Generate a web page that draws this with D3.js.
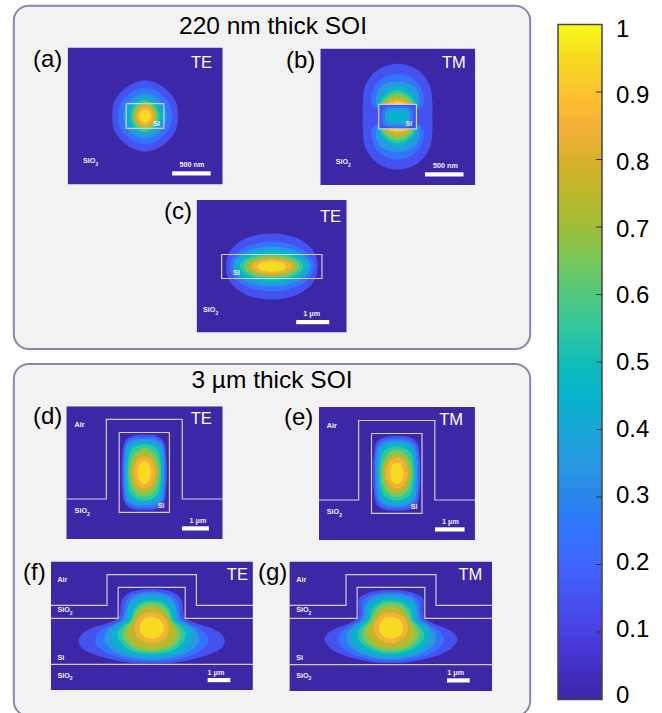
<!DOCTYPE html>
<html>
<head>
<meta charset="utf-8">
<script src="https://cdn.jsdelivr.net/npm/d3@7"></script>
<style>
  html, body { margin: 0; background: #fff; }
  svg { display: block; }
  text { font-family: "Liberation Sans", Arial, sans-serif; }
</style>
</head>
<body>
<div id="chart"></div>
<script>
// colour bar: value -> colour
const barValues = [0, 0.05, 0.1, 0.15, 0.2, 0.25, 0.3, 0.35, 0.4, 0.45, 0.5, 0.55, 0.6, 0.65, 0.7, 0.75, 0.8, 0.85, 0.9, 0.95, 1];
const barColors = ["#3c27a6", "#4230c8", "#4a3fe0", "#4552f0", "#4065ff", "#3274fc", "#2a84ec", "#2898e0", "#18a8d8", "#08b4cc", "#10bcb8", "#30c8a0", "#50c880", "#78c85c", "#a0bd38", "#bcb82c", "#d8b028", "#f5b038", "#fcc42d", "#f8da22", "#f9fb15"];
const barTicks = [0, 0.1, 0.2, 0.3, 0.4, 0.5, 0.6, 0.7, 0.8, 0.9, 1];

// contour levels, every row below belongs to one level
const levels = [0.1, 0.2, 0.3, 0.4, 0.5, 0.6, 0.7, 0.8, 0.9];

// polar sampling of the contours, degrees (0 = right, 90 = up)
const quarterAngles = [0, 22.5, 45, 67.5, 90];
const lobeAngles = [-90, -15, 0, 22.5, 45, 67.5, 90];
const ribAngles = [90, 70, 55, 42, 25, 15, 5, 0, -5, -10, -15, -20, -30, -45, -70, -90];

// contour radius in um, one row per level
const radiiA = [
  [0.425, 0.44, 0.44, 0.45, 0.464],
  [0.35, 0.355, 0.35, 0.36, 0.37],
  [0.286, 0.28, 0.28, 0.285, 0.293],
  [0.228, 0.228, 0.225, 0.23, 0.24],
  [0.19, 0.19, 0.195, 0.2, 0.208],
  [0.163, 0.163, 0.169, 0.176, 0.182],
  [0.137, 0.139, 0.143, 0.15, 0.156],
  [0.11, 0.112, 0.114, 0.12, 0.124],
  [0.075, 0.077, 0.078, 0.08, 0.082]
];
// (b) has three parts: the outer ring, the two lobes and the dip inside the Si
const radiiBOuter = [[0.451, 0.489, 0.586, 0.662, 0.689]];
const radiiBLobe = [
  [0.052, 0.26, 0.334, 0.358, 0.384, 0.393, 0.395],
  [0.039, 0.247, 0.28, 0.3, 0.319, 0.306, 0.295],
  [0.026, 0.208, 0.241, 0.241, 0.234, 0.234, 0.239],
  [0.026, 0.13, 0.221, 0.208, 0.189, 0.186, 0.187],
  [0.026, 0.104, 0.202, 0.176, 0.156, 0.147, 0.143],
  [0.026, 0.078, 0.182, 0.143, 0.117, 0.108, 0.1],
  [0.013, 0.052, 0.15, 0.098, 0.072, 0.061, 0.056],
  [0.013, 0.039, 0.124, 0.059, 0.039, 0.033, 0.03]
];
const radiiBCore = [
  [0.202, 0.218, 0.189, 0.155, 0.143],
  [0.163, 0.176, 0.156, 0.121, 0.111],
  [0.124, 0.13, 0.104, 0.083, 0.078]
];
// (c), (d), (e) are elongated, their radii are read in a stretched frame
const radiiC = [
  [0.63, 0.667, 0.773, 0.924, 1.0],
  [0.582, 0.6, 0.652, 0.718, 0.752],
  [0.536, 0.545, 0.567, 0.594, 0.606],
  [0.491, 0.494, 0.5, 0.503, 0.506],
  [0.436, 0.43, 0.418, 0.406, 0.403],
  [0.382, 0.376, 0.361, 0.348, 0.342],
  [0.333, 0.324, 0.303, 0.288, 0.282],
  [0.276, 0.267, 0.248, 0.233, 0.227],
  [0.197, 0.191, 0.179, 0.167, 0.164]
];
const radiiD = [
  [0.839, 0.895, 1.007, 0.914, 0.858],
  [0.783, 0.839, 0.951, 0.858, 0.791],
  [0.746, 0.794, 0.895, 0.802, 0.746],
  [0.69, 0.724, 0.802, 0.727, 0.69],
  [0.634, 0.656, 0.709, 0.656, 0.634],
  [0.578, 0.578, 0.582, 0.563, 0.552],
  [0.504, 0.492, 0.485, 0.47, 0.463],
  [0.41, 0.399, 0.384, 0.369, 0.362],
  [0.25, 0.25, 0.254, 0.257, 0.261]
];
const radiiE = [
  [0.794, 0.845, 0.946, 0.845, 0.791],
  [0.744, 0.794, 0.879, 0.794, 0.74],
  [0.693, 0.733, 0.811, 0.737, 0.696],
  [0.642, 0.669, 0.727, 0.666, 0.635],
  [0.592, 0.605, 0.642, 0.588, 0.571],
  [0.524, 0.521, 0.521, 0.507, 0.497],
  [0.456, 0.443, 0.433, 0.419, 0.412],
  [0.372, 0.362, 0.348, 0.335, 0.328],
  [0.237, 0.233, 0.23, 0.226, 0.223]
];
const radiiF = [
  [1.70, 1.76, 1.84, 1.78, 1.54, 1.55, 2.03, 2.59, 3.07, 3.27, 3.24, 3.04, 2.57, 2.07, 1.67, 1.57],
  [1.59, 1.63, 1.69, 1.59, 1.38, 1.39, 1.72, 2.05, 2.33, 2.51, 2.57, 2.50, 2.26, 1.91, 1.56, 1.50],
  [1.51, 1.56, 1.54, 1.42, 1.29, 1.29, 1.61, 1.81, 2.00, 2.10, 2.15, 2.14, 2.00, 1.75, 1.47, 1.42],
  [1.37, 1.38, 1.35, 1.38, 1.16, 1.19, 1.39, 1.54, 1.69, 1.78, 1.79, 1.79, 1.73, 1.59, 1.35, 1.31],
  [1.19, 1.20, 1.17, 1.10, 1.00, 1.03, 1.25, 1.35, 1.47, 1.53, 1.54, 1.54, 1.47, 1.37, 1.20, 1.16],
  [1.10, 1.10, 1.06, 1.00, 0.92, 0.97, 1.09, 1.17, 1.25, 1.29, 1.32, 1.34, 1.31, 1.23, 1.09, 1.06],
  [0.92, 0.92, 0.88, 0.85, 0.84, 0.88, 0.98, 1.03, 1.07, 1.10, 1.12, 1.13, 1.12, 1.07, 0.97, 0.94],
  [0.68, 0.69, 0.70, 0.72, 0.73, 0.75, 0.75, 0.76, 0.76, 0.76, 0.76, 0.76, 0.75, 0.73, 0.70, 0.69],
  [0.48, 0.49, 0.50, 0.51, 0.51, 0.53, 0.53, 0.53, 0.53, 0.53, 0.53, 0.53, 0.53, 0.51, 0.50, 0.50]
];
const radiiG = [
  [1.66, 1.73, 1.84, 1.91, 1.57, 1.56, 1.91, 2.35, 2.79, 2.98, 2.91, 2.79, 2.42, 1.98, 1.64, 1.56],
  [1.56, 1.61, 1.70, 1.69, 1.41, 1.41, 1.69, 1.94, 2.20, 2.36, 2.39, 2.35, 2.16, 1.84, 1.54, 1.48],
  [1.47, 1.53, 1.57, 1.51, 1.32, 1.32, 1.57, 1.72, 1.91, 1.98, 2.03, 2.03, 1.91, 1.69, 1.44, 1.39],
  [1.35, 1.38, 1.39, 1.42, 1.17, 1.20, 1.39, 1.51, 1.64, 1.73, 1.76, 1.76, 1.69, 1.54, 1.34, 1.29],
  [1.20, 1.22, 1.19, 1.15, 1.03, 1.06, 1.23, 1.32, 1.42, 1.48, 1.51, 1.51, 1.44, 1.32, 1.17, 1.15],
  [1.10, 1.10, 1.07, 1.01, 0.94, 0.98, 1.09, 1.16, 1.23, 1.28, 1.31, 1.32, 1.28, 1.19, 1.07, 1.04],
  [0.91, 0.91, 0.88, 0.85, 0.84, 0.88, 0.97, 1.01, 1.04, 1.07, 1.09, 1.10, 1.09, 1.04, 0.95, 0.92],
  [0.68, 0.69, 0.70, 0.72, 0.73, 0.75, 0.75, 0.75, 0.75, 0.75, 0.75, 0.75, 0.73, 0.72, 0.70, 0.69],
  [0.48, 0.48, 0.50, 0.51, 0.53, 0.53, 0.53, 0.53, 0.53, 0.53, 0.53, 0.53, 0.53, 0.51, 0.50, 0.50]
];

const width = 662;
const height = 713;
const bgBlue = "#3c27a6";
const lineColor = "#cfcbe8";

const color = d3.scaleLinear().domain(barValues).range(barColors);

const svg = d3.select("#chart").append("svg").attr("width", width).attr("height", height);

// grey group boxes
const boxes = [
  { y: 5.7, h: 343.3, title: "220 nm thick SOI", titleX: 273, titleY: 33.5 },
  { y: 364, h: 352, title: "3 µm thick SOI", titleX: 272, titleY: 387.7 }
];
boxes.forEach((b) => {
  svg.append("rect")
    .attr("x", 13.8).attr("y", b.y)
    .attr("width", 516.4).attr("height", b.h)
    .attr("rx", 15)
    .attr("fill", "#f2f2f2")
    .attr("stroke", "#8a86ab")
    .attr("stroke-width", 2);
  svg.append("text")
    .attr("x", b.titleX).attr("y", b.titleY)
    .attr("text-anchor", "middle")
    .style("font-size", "24.5px")
    .text(b.title);
});

// turn one row of radii into a closed ring of [x, y] in um
const ring = (angles, radii) => {
  let pts = angles.map((a, i) => [a, radii[i]]).sort((p, q) => p[0] - q[0]);
  if (pts[0][0] === 0) {
    // only a quarter was read, mirror it below the axis
    pts = pts.slice(1).reverse().map((p) => [-p[0], p[1]]).concat(pts);
  }
  const left = pts.slice(1, -1).reverse().map((p) => [180 - p[0], p[1]]);
  return pts.concat(left).map((p) => {
    const t = (p[0] * Math.PI) / 180;
    return [p[1] * Math.cos(t), p[1] * Math.sin(t)];
  });
};

const panels = [
  {
    id: "a", frame: [67.7, 47.5, 222.7, 184.5], center: [145, 116], pxPerUm: 77,
    label: [33, 67], mode: "TE", modePos: [191, 67.7],
    fields: [{ angles: quarterAngles, rows: radiiA, from: 0 }],
    si: [[-0.245, -0.161], [0.245, -0.161], [0.245, 0.161], [-0.245, 0.161], [-0.245, -0.161]],
    lines: [],
    bar: 0.5, barText: "500 nm", barPos: [172.2, 171.3], barTextPos: [192, 166.7],
    notes: [["SiO", 83, 163, true], ["Si", 153, 125.5]]
  },
  {
    id: "b", frame: [320.3, 48.5, 475.3, 185], center: [397.6, 116.7], pxPerUm: 77,
    label: [286, 68], mode: "TM", modePos: [442, 67.7],
    fields: [
      { angles: quarterAngles, rows: radiiBOuter, from: 0 },
      { angles: lobeAngles, rows: radiiBLobe, from: 1, origin: -0.159, sign: 1 },
      { angles: lobeAngles, rows: radiiBLobe, from: 1, origin: 0.159, sign: -1 },
      { fillRect: [0.245, 0.159], level: 0.1 },
      { angles: quarterAngles, rows: radiiBCore, from: 1 }
    ],
    si: [[-0.245, -0.159], [0.245, -0.159], [0.245, 0.159], [-0.245, 0.159], [-0.245, -0.159]],
    lines: [],
    bar: 0.5, barText: "500 nm", barPos: [425, 172.3], barTextPos: [445.4, 167.7],
    notes: [["SiO", 335.7, 164, true], ["Si", 405.5, 126.3]]
  },
  {
    id: "c", frame: [196.6, 200, 346.7, 332.5], center: [271.8, 266.5], pxPerUm: 33,
    label: [164, 218.5], mode: "TE", modePos: [320, 221.7],
    fields: [{ angles: quarterAngles, rows: radiiC, from: 0, stretch: [2.2, 1] }],
    si: [[-1.52, -0.364], [1.52, -0.364], [1.52, 0.364], [-1.52, 0.364], [-1.52, -0.364]],
    lines: [],
    bar: 1, barText: "1 μm", barPos: [296.2, 320], barTextPos: [311.7, 316],
    notes: [["SiO", 203, 312.3, true], ["Si", 233, 275.3]]
  },
  {
    id: "d", frame: [66.3, 406.3, 222.7, 539], center: [144.3, 472.4], pxPerUm: 26.8,
    label: [33, 424], mode: "TE", modePos: [190.7, 424],
    fields: [{ angles: quarterAngles, rows: radiiD, from: 0, stretch: [1, 1.65] }],
    si: [[-0.937, -1.489], [0.937, -1.489], [0.937, 1.489], [-0.937, 1.489], [-0.937, -1.489]],
    lines: [[[-3, 0.993], [-1.416, 0.993], [-1.416, -1.981], [1.416, -1.981], [1.416, 0.993], [3, 0.993]]],
    bar: 1, barText: "1 μm", barPos: [182.1, 526.3], barTextPos: [198, 523],
    notes: [["Air", 74.6, 427], ["SiO", 74.6, 513.3, true], ["Si", 157.7, 507.7]]
  },
  {
    id: "e", frame: [318.9, 407, 474.9, 540], center: [396.75, 473.4], pxPerUm: 29.6,
    label: [284, 425], mode: "TM", modePos: [439.2, 425],
    fields: [{ angles: quarterAngles, rows: radiiE, from: 0, stretch: [1, 1.6] }],
    si: [[-0.853, -1.348], [0.853, -1.348], [0.853, 1.348], [-0.853, 1.348], [-0.853, -1.348]],
    lines: [[[-3, 0.899], [-1.287, 0.899], [-1.287, -1.787], [1.287, -1.787], [1.287, 0.899], [3, 0.899]]],
    bar: 1, barText: "1 μm", barPos: [435, 527.3], barTextPos: [450.5, 524],
    notes: [["Air", 326.8, 428], ["SiO", 326.8, 514, true], ["Si", 410.7, 508.7]]
  },
  {
    id: "f", frame: [50.9, 561.5, 252.9, 690], center: [151.7, 627.7], pxPerUm: 22.7,
    label: [23, 580], mode: "TE", modePos: [226.8, 580],
    fields: [{ angles: ribAngles, rows: radiiF, from: 0 }],
    si: [[-5, -0.414], [-1.476, -0.414], [-1.476, -1.78], [1.476, -1.78], [1.476, -0.414], [5, -0.414]],
    lines: [
      [[-5, -0.987], [-1.969, -0.987], [-1.969, -2.335], [1.969, -2.335], [1.969, -0.987], [5, -0.987]],
      [[-5, 1.612], [5, 1.612]]
    ],
    bar: 1, barText: "1 μm", barPos: [207.6, 678], barTextPos: [216, 674.7],
    notes: [["Air", 57.4, 581.7], ["SiO", 57.4, 612.3, true], ["Si", 57.4, 660.3], ["SiO", 57.4, 677.7, true]]
  },
  {
    id: "g", frame: [289.4, 561.5, 492.1, 691], center: [391, 627.7], pxPerUm: 22.7,
    label: [258, 580], mode: "TM", modePos: [458.4, 580],
    fields: [{ angles: ribAngles, rows: radiiG, from: 0 }],
    si: [[-5, -0.414], [-1.491, -0.414], [-1.491, -1.78], [1.491, -1.78], [1.491, -0.414], [5, -0.414]],
    lines: [
      [[-5, -0.987], [-1.982, -0.987], [-1.982, -2.335], [1.982, -2.335], [1.982, -0.987], [5, -0.987]],
      [[-5, 1.63], [5, 1.63]]
    ],
    bar: 1, barText: "1 μm", barPos: [447, 678.3], barTextPos: [455.7, 674.7],
    notes: [["Air", 296.2, 581.7], ["SiO", 296.2, 612.3, true], ["Si", 296.2, 660.3], ["SiO", 296.2, 677.7, true]]
  }
];

panels.forEach((p) => {
  const [x0, y0, x1, y1] = p.frame;
  const x = d3.scaleLinear().domain([-1, 1]).range([p.center[0] - p.pxPerUm, p.center[0] + p.pxPerUm]);
  const y = d3.scaleLinear().domain([-1, 1]).range([p.center[1] - p.pxPerUm, p.center[1] + p.pxPerUm]);

  svg.append("clipPath").attr("id", "clip-" + p.id)
    .append("rect").attr("x", x0).attr("y", y0).attr("width", x1 - x0).attr("height", y1 - y0);

  const g = svg.append("g").attr("clip-path", "url(#clip-" + p.id + ")");
  g.append("rect").attr("x", x0).attr("y", y0).attr("width", x1 - x0).attr("height", y1 - y0).attr("fill", bgBlue);

  const curve = d3.line().x((d) => x(d[0])).y((d) => y(d[1])).curve(d3.curveCatmullRomClosed.alpha(0.5));
  const poly = d3.line().x((d) => x(d[0])).y((d) => y(d[1]));

  p.fields.forEach((f) => {
    if (f.fillRect) {
      g.append("rect")
        .attr("x", x(-f.fillRect[0])).attr("y", y(-f.fillRect[1]))
        .attr("width", x(f.fillRect[0]) - x(-f.fillRect[0]))
        .attr("height", y(f.fillRect[1]) - y(-f.fillRect[1]))
        .attr("fill", color(f.level + 0.05));
      return;
    }
    const off = f.origin || 0;
    const sign = f.sign || 1;
    const [sx, sy] = f.stretch || [1, 1];
    g.selectAll(null)
      .data(f.rows)
      .enter()
      .append("path")
      .attr("d", (r) => curve(ring(f.angles, r).map((q) => [q[0] * sx, off - sign * q[1] * sy])))
      .attr("fill", (r, i) => color(levels[i + f.from] + 0.05));
  });

  // waveguide outlines
  const outline = (d) => g.append("path")
    .attr("d", poly(d))
    .attr("fill", "none")
    .attr("stroke", lineColor)
    .attr("stroke-width", 1.2);
  p.lines.forEach(outline);
  outline(p.si);

  // scale bar
  g.append("rect")
    .attr("x", p.barPos[0]).attr("y", p.barPos[1])
    .attr("width", x(p.bar) - x(0)).attr("height", 4.2)
    .attr("fill", "#fff");

  const small = (t, px, py, anchor) => g.append("text")
    .attr("x", px).attr("y", py)
    .attr("text-anchor", anchor || "start")
    .attr("fill", "#f4f2ff")
    .style("font-size", "7.2px")
    .style("font-weight", "bold")
    .text(t);

  small(p.barText, p.barTextPos[0], p.barTextPos[1], "middle");
  p.notes.forEach((n) => {
    const t = small(n[0], n[1], n[2]);
    if (n[3]) t.append("tspan").attr("dy", 2.5).style("font-size", "5px").text("2");
  });

  // TE / TM
  svg.append("text")
    .attr("x", p.modePos[0]).attr("y", p.modePos[1])
    .attr("fill", "#fff")
    .style("font-size", "16.5px")
    .text(p.mode);

  // (a) ... (g)
  svg.append("text")
    .attr("x", p.label[0]).attr("y", p.label[1])
    .style("font-size", "24px")
    .text("(" + p.id + ")");
});

// colour bar
const barY = d3.scaleLinear().domain([0, 1]).range([699.5, 24.5]);
// the tick labels sit on a slightly tighter spacing than the ticks
const labelY = d3.scaleLinear().domain([0, 1]).range([703.3, 36.7]);
const barX0 = 558;
const barX1 = 602;

const grad = svg.append("defs").append("linearGradient")
  .attr("id", "bar-grad")
  .attr("x1", 0).attr("x2", 0).attr("y1", 1).attr("y2", 0);
grad.selectAll("stop")
  .data(barValues)
  .enter()
  .append("stop")
  .attr("offset", (d) => d)
  .attr("stop-color", (d) => color(d));

svg.append("rect")
  .attr("x", barX0).attr("y", barY(1))
  .attr("width", barX1 - barX0).attr("height", barY(0) - barY(1))
  .attr("fill", "url(#bar-grad)")
  .attr("stroke", "#444")
  .attr("stroke-width", 1.5);

svg.selectAll(".bar-tick")
  .data(barTicks.slice(1, -1))
  .enter()
  .append("line")
  .attr("class", "bar-tick")
  .attr("x1", barX1 - 6).attr("x2", barX1)
  .attr("y1", (d) => barY(d)).attr("y2", (d) => barY(d))
  .attr("stroke", "#333")
  .attr("stroke-width", 1);

svg.selectAll(".bar-label")
  .data(barTicks)
  .enter()
  .append("text")
  .attr("class", "bar-label")
  .attr("x", 616)
  .attr("y", (d) => labelY(d))
  .style("font-size", "24px")
  .text((d) => d);
</script>
</body>
</html>
